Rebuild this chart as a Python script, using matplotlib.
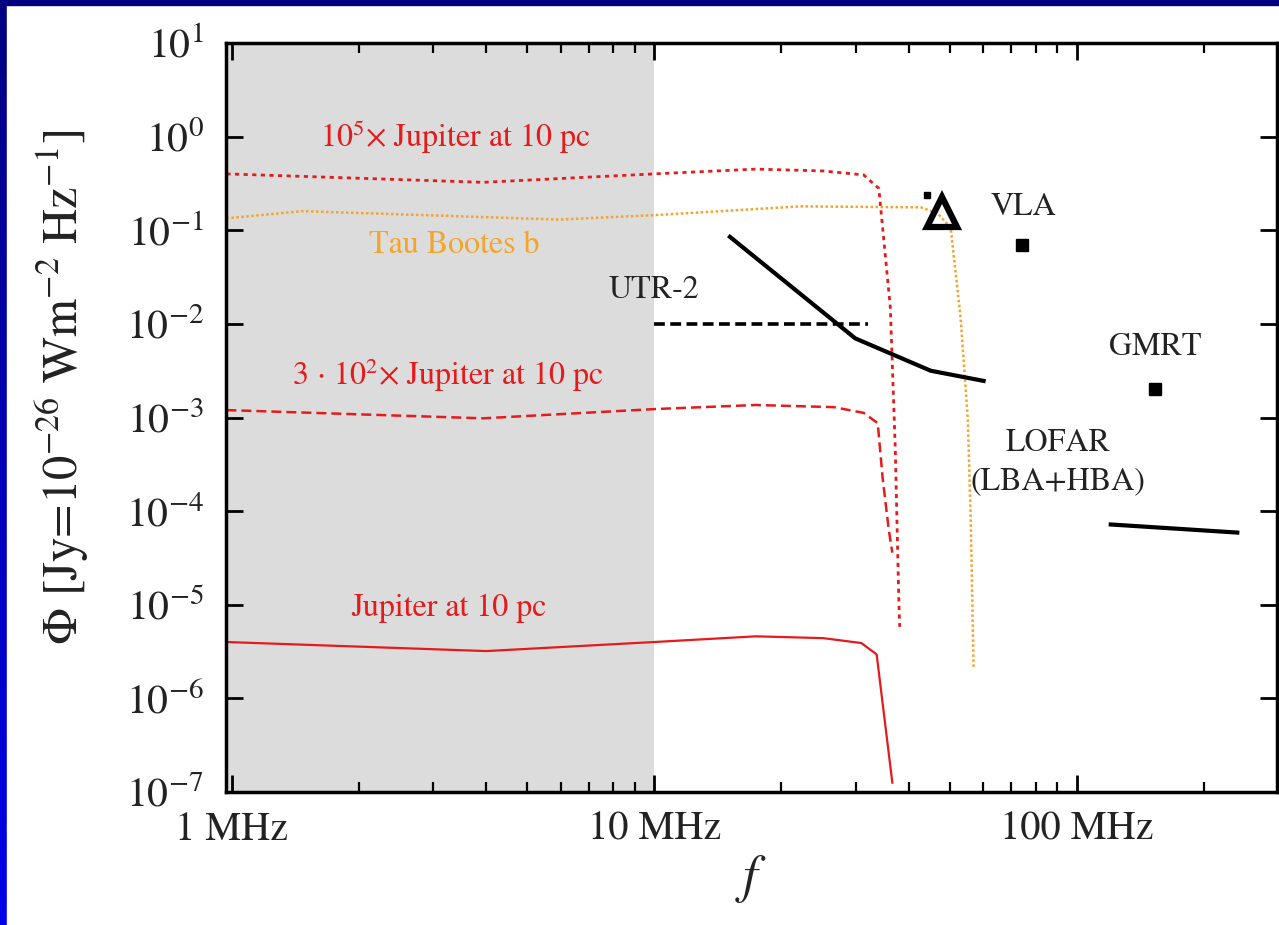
import numpy as np
import matplotlib
matplotlib.use('Agg')
import matplotlib.pyplot as plt
from matplotlib.patches import Rectangle

plt.rcParams['font.family'] = ['STIXGeneral', 'DejaVu Serif']
plt.rcParams['mathtext.fontset'] = 'stix'

# frequencies in MHz, flux densities in Jy
f_j5 = [0.97, 3.93, 10.0, 17.4, 25.1, 31.3, 33.4, 34.0, 36.2, 37.2, 37.9, 38.1]
phi_j5 = [0.40, 0.325, 0.40, 0.45, 0.43, 0.39, 0.30, 0.28, 0.015, 4.5e-4, 1.2e-5, 5.8e-6]

f_j300 = [0.97, 3.93, 10.0, 17.4, 26.6, 31.3, 33.8, 34.7, 35.9, 36.6]
phi_j300 = [1.2e-3, 9.8e-4, 1.23e-3, 1.36e-3, 1.29e-3, 1.12e-3, 8.7e-4, 2.3e-4, 6.3e-5, 3.6e-5]

f_jup = [0.97, 4.0, 10.0, 17.4, 25.1, 30.9, 33.6, 36.6]
phi_jup = [4.0e-6, 3.2e-6, 4.0e-6, 4.6e-6, 4.4e-6, 3.9e-6, 2.95e-6, 1.26e-7]

f_tau = [0.97, 1.47, 5.96, 10.0, 22.2, 39.8, 42.7, 46.9, 50.3, 53.1, 55.2, 56.1, 57.0]
phi_tau = [0.134, 0.16, 0.13, 0.145, 0.18, 0.176, 0.176, 0.151, 0.106, 0.0117, 1.0e-3, 8.7e-5, 2.1e-6]

f_sens = [15.1, 29.9, 45.1, 60.2]
phi_sens = [0.085, 7.0e-3, 3.16e-3, 2.46e-3]

f_utr = [10.0, 32.1]
phi_utr = [1e-2, 1e-2]

f_lofar = [120.4, 240.0]
phi_lofar = [7.2e-5, 5.9e-5]

f_squares = [74.1, 153.0]
phi_squares = [0.069, 2.04e-3]
f_small, phi_small = 44.1, 0.238
f_tri, phi_tri = 48.1, 0.158

xticks = [1, 10, 100]
xticklabels = ['1 MHz', '10 MHz', '100 MHz']

red = '#e41a1c'
orange = '#f2a52a'

fig = plt.figure(figsize=(12.79, 9.25), dpi=100)

# slide background: blue frame on top and left
bg = fig.add_axes([0, 0, 1, 1], zorder=-10)
grad = np.linspace(0, 1, 256)[:, None]
cols = np.zeros((256, 1, 3))
cols[:, 0, 2] = 0.5 + 0.42 * grad[:, 0]
bg.imshow(cols, aspect='auto', extent=[0, 1, 0, 1], origin='upper')
bg.add_patch(Rectangle((7 / 1279, 0), 1, 1 - 5 / 925, color='white'))
bg.add_patch(Rectangle((0, 1 - 5 / 925), 1, 5 / 925, color='#000080'))
bg.set_xlim(0, 1)
bg.set_ylim(0, 1)
bg.axis('off')

ax = fig.add_axes([226 / 1279, 1 - 792 / 925, 1051 / 1279, 749 / 925])
ax.set_xscale('log')
ax.set_yscale('log')
ax.set_xlim(0.968, 298)
ax.set_ylim(1e-7, 10)

ax.axvspan(0.968, 10, color='#dcdcdc', zorder=0, lw=0)

ax.plot(f_j5, phi_j5, color=red, lw=2, ls=(0, (1.5, 1.6)))
ax.plot(f_j300, phi_j300, color=red, lw=1.8, ls=(0, (4, 2)))
ax.plot(f_jup, phi_jup, color=red, lw=1.6)
ax.plot(f_tau, phi_tau, color=orange, lw=1.8, ls=(0, (1, 1)))
ax.plot(f_sens, phi_sens, color='black', lw=3)
ax.plot(f_utr, phi_utr, color='black', lw=2.6, ls=(0, (3, 1.5)))
ax.plot(f_lofar, phi_lofar, color='black', lw=3)
ax.plot(f_squares, phi_squares, 's', color='black', ms=9)
ax.plot([f_small], [phi_small], 's', color='black', ms=5)
ax.plot([f_tri], [phi_tri], '^', mfc='none', mec='black', mew=4.5, ms=22)

ax.text(3.38, 0.99, r'10$^5$$\times$ Jupiter at 10 pc', color=red, fontsize=23, ha='center', va='center')
ax.text(3.36, 0.0695, 'Tau Bootes b', color=orange, fontsize=23, ha='center', va='center')
ax.text(10.0, 0.023, 'UTR-2', color='#222222', fontsize=23, ha='center', va='center')
ax.text(3.25, 2.84e-3, r'3 $\cdot$ 10$^2$$\times$ Jupiter at 10 pc', color=red, fontsize=23, ha='center', va='center')
ax.text(3.26, 9.2e-6, 'Jupiter at 10 pc', color=red, fontsize=23, ha='center', va='center')
ax.text(74.8, 0.177, 'VLA', color='#222222', fontsize=23, ha='center', va='center')
ax.text(153.8, 5.65e-3, 'GMRT', color='#222222', fontsize=23, ha='center', va='center')
ax.text(90.2, 3.3e-4, 'LOFAR\n(LBA+HBA)', color='#222222', fontsize=23, ha='center', va='center', linespacing=1.4)

ax.set_xticks(xticks)
ax.set_xticklabels(xticklabels)
ax.set_yticks([10.0 ** k for k in range(-7, 2)])
ax.yaxis.set_minor_locator(matplotlib.ticker.NullLocator())

ax.tick_params(axis='both', which='major', direction='in', length=12, width=2,
               top=True, right=True, labelsize=29, labelcolor='#222222')
ax.tick_params(axis='x', which='minor', direction='in', length=7, width=1.6, top=True)
ax.tick_params(axis='x', which='major', pad=14)
ax.tick_params(axis='y', which='major', pad=16, labelsize=30)
for s in ax.spines.values():
    s.set_linewidth(2.5)

ax.set_ylabel(r'$\Phi$ [Jy=10$^{-26}$ Wm$^{-2}$ Hz$^{-1}$]', fontsize=35, color='#222222')
ax.yaxis.set_label_coords(-0.128, 0.54)
ax.set_xlabel(r'$f$', fontsize=38, color='#222222')
ax.xaxis.set_label_coords(0.5, -0.082)

plt.savefig('out.png', dpi=100)
plt.close('all')
